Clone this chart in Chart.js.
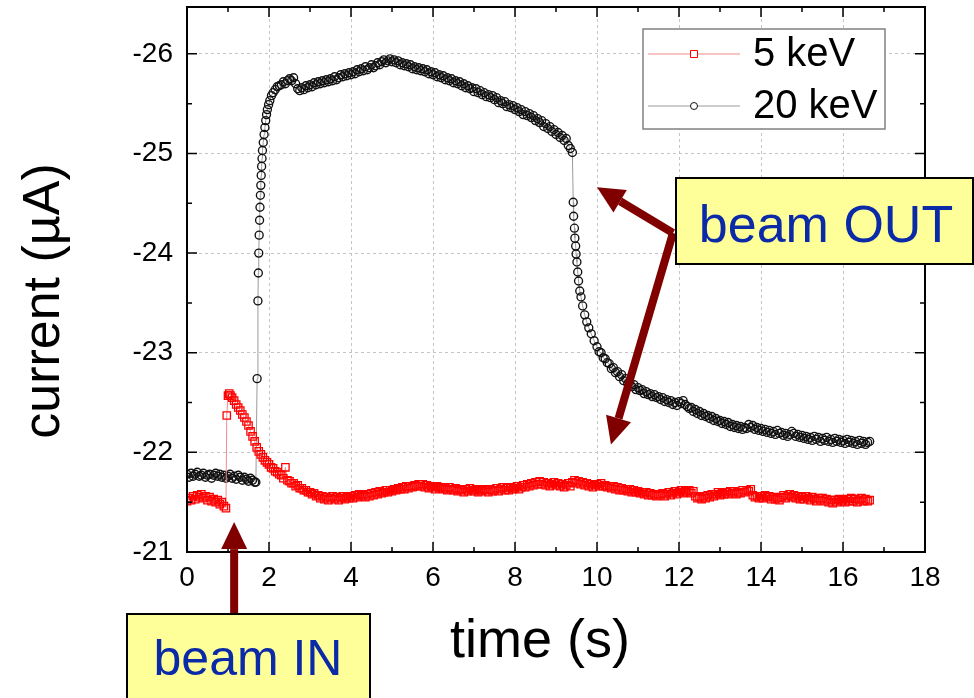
<!DOCTYPE html>
<html>
<head>
<meta charset="utf-8">
<script src="https://cdn.jsdelivr.net/npm/chart.js@4.4.0/dist/chart.umd.min.js"></script>
<style>
  html, body { margin: 0; padding: 0; background: #fff; }
  #wrap { width: 974px; height: 698px; }
</style>
</head>
<body>
<div id="wrap"><canvas id="chart" width="974" height="698"></canvas></div>
<script>
const FONT = "'Liberation Sans', Arial, sans-serif";

const seriesNames = ['5 keV', '20 keV'];
const xTicks = [0, 2, 4, 6, 8, 10, 12, 14, 16, 18];
const yTicks = [-26, -25, -24, -23, -22, -21];

// 5 keV
const time5 = [
  0.0, 0.05, 0.1, 0.15, 0.2, 0.25, 0.3, 0.35, 0.4, 0.45, 0.5, 0.55, 0.6, 0.65, 0.7, 0.75, 0.8, 0.85, 0.9, 0.95,
  0.97, 1.0, 1.03, 1.06, 1.1, 1.15, 1.2, 1.25, 1.3, 1.35, 1.4, 1.45, 1.5, 1.55, 1.6, 1.65, 1.7, 1.75, 1.8, 1.85, 1.9, 1.95,
  2.0, 2.05, 2.1, 2.15, 2.2, 2.25, 2.3, 2.35, 2.4, 2.45, 2.5, 2.55, 2.6, 2.65, 2.7, 2.75, 2.8, 2.85, 2.9, 2.95,
  3.0, 3.05, 3.1, 3.15, 3.2, 3.25, 3.3, 3.35, 3.4, 3.45, 3.5, 3.55, 3.6, 3.65, 3.7, 3.75, 3.8, 3.85, 3.9, 3.95,
  4.0, 4.05, 4.1, 4.15, 4.2, 4.25, 4.3, 4.35, 4.4, 4.45, 4.5, 4.55, 4.6, 4.65, 4.7, 4.75, 4.8, 4.85, 4.9, 4.95,
  5.0, 5.05, 5.1, 5.15, 5.2, 5.25, 5.3, 5.35, 5.4, 5.45, 5.5, 5.55, 5.6, 5.65, 5.7, 5.75, 5.8, 5.85, 5.9, 5.95,
  6.0, 6.05, 6.1, 6.15, 6.2, 6.25, 6.3, 6.35, 6.4, 6.45, 6.5, 6.55, 6.6, 6.65, 6.7, 6.75, 6.8, 6.85, 6.9, 6.95,
  7.0, 7.05, 7.1, 7.15, 7.2, 7.25, 7.3, 7.35, 7.4, 7.45, 7.5, 7.55, 7.6, 7.65, 7.7, 7.75, 7.8, 7.85, 7.9, 7.95,
  8.0, 8.05, 8.1, 8.15, 8.2, 8.25, 8.3, 8.35, 8.4, 8.45, 8.5, 8.55, 8.6, 8.65, 8.7, 8.75, 8.8, 8.85, 8.9, 8.95,
  9.0, 9.05, 9.1, 9.15, 9.2, 9.25, 9.3, 9.35, 9.4, 9.45, 9.5, 9.55, 9.6, 9.65, 9.7, 9.75, 9.8, 9.85, 9.9, 9.95,
  10.0, 10.05, 10.1, 10.15, 10.2, 10.25, 10.3, 10.35, 10.4, 10.45, 10.5, 10.55, 10.6, 10.65, 10.7, 10.75, 10.8, 10.85, 10.9, 10.95,
  11.0, 11.05, 11.1, 11.15, 11.2, 11.25, 11.3, 11.35, 11.4, 11.45, 11.5, 11.55, 11.6, 11.65, 11.7, 11.75, 11.8, 11.85, 11.9, 11.95,
  12.0, 12.05, 12.1, 12.15, 12.2, 12.25, 12.3, 12.35, 12.4, 12.45, 12.5, 12.55, 12.6, 12.65, 12.7, 12.75, 12.8, 12.85, 12.9, 12.95,
  13.0, 13.05, 13.1, 13.15, 13.2, 13.25, 13.3, 13.35, 13.4, 13.45, 13.5, 13.55, 13.6, 13.65, 13.7, 13.75, 13.8, 13.85, 13.9, 13.95,
  14.0, 14.05, 14.1, 14.15, 14.2, 14.25, 14.3, 14.35, 14.4, 14.45, 14.5, 14.55, 14.6, 14.65, 14.7, 14.75, 14.8, 14.85, 14.9, 14.95,
  15.0, 15.05, 15.1, 15.15, 15.2, 15.25, 15.3, 15.35, 15.4, 15.45, 15.5, 15.55, 15.6, 15.65, 15.7, 15.75, 15.8, 15.85, 15.9, 15.95,
  16.0, 16.05, 16.1, 16.15, 16.2, 16.25, 16.3, 16.35, 16.4, 16.45, 16.5, 16.55, 16.6, 16.65
];
const current5 = [
  -21.51, -21.54, -21.52, -21.56, -21.53, -21.57, -21.55, -21.58, -21.54, -21.56, -21.52, -21.55, -21.51, -21.53, -21.50, -21.52, -21.48, -21.50, -21.46, -21.44,
  -22.37, -22.57, -22.59, -22.57, -22.55, -22.52, -22.48, -22.45, -22.42, -22.38, -22.35, -22.31, -22.27, -22.21, -22.16, -22.11, -22.05, -22.01, -21.98, -21.95, -21.92, -21.90,
  -21.88, -21.85, -21.84, -21.81, -21.80, -21.78, -21.77, -21.74, -21.85, -21.72, -21.71, -21.69, -21.69, -21.66, -21.67, -21.64, -21.64, -21.62, -21.62, -21.60,
  -21.60, -21.58, -21.59, -21.56, -21.57, -21.54, -21.56, -21.53, -21.55, -21.52, -21.54, -21.56, -21.53, -21.55, -21.52, -21.54, -21.56, -21.53, -21.55, -21.54,
  -21.56, -21.54, -21.57, -21.55, -21.58, -21.56, -21.57, -21.55, -21.58, -21.56, -21.59, -21.57, -21.60, -21.58, -21.61, -21.59, -21.60, -21.62, -21.60, -21.62,
  -21.61, -21.63, -21.62, -21.64, -21.63, -21.65, -21.63, -21.66, -21.64, -21.66, -21.65, -21.67, -21.66, -21.68, -21.66, -21.68, -21.65, -21.67, -21.64, -21.66,
  -21.65, -21.63, -21.66, -21.64, -21.65, -21.63, -21.64, -21.62, -21.65, -21.63, -21.62, -21.64, -21.61, -21.63, -21.62, -21.60, -21.63, -21.61, -21.64, -21.62,
  -21.61, -21.63, -21.60, -21.62, -21.61, -21.63, -21.62, -21.60, -21.63, -21.61, -21.62, -21.64, -21.61, -21.63, -21.65, -21.62, -21.64, -21.62, -21.65, -21.63,
  -21.64, -21.66, -21.63, -21.65, -21.67, -21.65, -21.68, -21.66, -21.69, -21.67, -21.70, -21.68, -21.71, -21.68, -21.70, -21.67, -21.69, -21.66, -21.68, -21.70,
  -21.67, -21.69, -21.66, -21.68, -21.65, -21.67, -21.69, -21.66, -21.70, -21.72, -21.69, -21.71, -21.68, -21.70, -21.67, -21.69, -21.66, -21.68, -21.65, -21.67,
  -21.68, -21.66, -21.69, -21.66, -21.67, -21.65, -21.66, -21.64, -21.66, -21.63, -21.65, -21.62, -21.64, -21.62, -21.63, -21.61, -21.63, -21.60, -21.62, -21.60,
  -21.61, -21.59, -21.60, -21.58, -21.60, -21.57, -21.59, -21.57, -21.58, -21.56, -21.58, -21.57, -21.59, -21.56, -21.58, -21.60, -21.57, -21.59, -21.61, -21.58,
  -21.60, -21.62, -21.59, -21.61, -21.60, -21.62, -21.59, -21.61, -21.56, -21.54, -21.55, -21.53, -21.56, -21.54, -21.57, -21.55, -21.58, -21.56, -21.58, -21.60,
  -21.57, -21.59, -21.58, -21.60, -21.58, -21.61, -21.59, -21.61, -21.58, -21.60, -21.59, -21.62, -21.60, -21.62, -21.61, -21.63, -21.57, -21.55, -21.56, -21.54,
  -21.56, -21.54, -21.57, -21.55, -21.56, -21.53, -21.55, -21.53, -21.54, -21.52, -21.55, -21.57, -21.54, -21.56, -21.58, -21.55, -21.57, -21.54, -21.56, -21.53,
  -21.55, -21.53, -21.56, -21.54, -21.52, -21.55, -21.53, -21.51, -21.54, -21.52, -21.54, -21.51, -21.53, -21.50, -21.52, -21.49, -21.52, -21.50, -21.53, -21.51,
  -21.52, -21.50, -21.53, -21.51, -21.54, -21.51, -21.53, -21.50, -21.52, -21.54, -21.51, -21.53, -21.51, -21.52
];

// 20 keV
const time20 = [
  0.0, 0.05, 0.1, 0.15, 0.2, 0.25, 0.3, 0.35, 0.4, 0.45, 0.5, 0.55, 0.6, 0.65, 0.7, 0.75, 0.8, 0.85, 0.9, 0.95,
  1.0, 1.05, 1.1, 1.15, 1.2, 1.25, 1.3, 1.35, 1.4, 1.45, 1.5, 1.55, 1.6, 1.65, 1.68,
  1.71, 1.73, 1.74, 1.75, 1.76, 1.77, 1.78, 1.79, 1.8, 1.81, 1.82, 1.83, 1.84, 1.86, 1.88, 1.9, 1.92, 1.94, 1.96, 1.99,
  2.02, 2.06, 2.1, 2.15, 2.2, 2.25, 2.3, 2.35, 2.4, 2.45, 2.5, 2.55, 2.6, 2.65, 2.7, 2.75, 2.8, 2.85, 2.9, 2.95,
  3.0, 3.05, 3.1, 3.15, 3.2, 3.25, 3.3, 3.35, 3.4, 3.45, 3.5, 3.55, 3.6, 3.65, 3.7, 3.75, 3.8, 3.85, 3.9, 3.95,
  4.0, 4.05, 4.1, 4.15, 4.2, 4.25, 4.3, 4.35, 4.4, 4.45, 4.5, 4.55, 4.6, 4.65, 4.7, 4.75, 4.8, 4.85, 4.9, 4.95,
  5.0, 5.05, 5.1, 5.15, 5.2, 5.25, 5.3, 5.35, 5.4, 5.45, 5.5, 5.55, 5.6, 5.65, 5.7, 5.75, 5.8, 5.85, 5.9, 5.95,
  6.0, 6.05, 6.1, 6.15, 6.2, 6.25, 6.3, 6.35, 6.4, 6.45, 6.5, 6.55, 6.6, 6.65, 6.7, 6.75, 6.8, 6.85, 6.9, 6.95,
  7.0, 7.05, 7.1, 7.15, 7.2, 7.25, 7.3, 7.35, 7.4, 7.45, 7.5, 7.55, 7.6, 7.65, 7.7, 7.75, 7.8, 7.85, 7.9, 7.95,
  8.0, 8.05, 8.1, 8.15, 8.2, 8.25, 8.3, 8.35, 8.4, 8.45, 8.5, 8.55, 8.6, 8.65, 8.7, 8.75, 8.8, 8.85, 8.9, 8.95,
  9.0, 9.05, 9.1, 9.15, 9.2, 9.25, 9.3, 9.35, 9.4,
  9.42, 9.43, 9.45, 9.46, 9.48, 9.49, 9.51, 9.53, 9.55, 9.58, 9.61, 9.65, 9.7, 9.75, 9.8, 9.86, 9.93,
  10.0, 10.05, 10.1, 10.15, 10.2, 10.25, 10.3, 10.35, 10.4, 10.45, 10.5, 10.55, 10.6, 10.65, 10.7, 10.75, 10.8, 10.85, 10.9, 10.95,
  11.0, 11.05, 11.1, 11.15, 11.2, 11.25, 11.3, 11.35, 11.4, 11.45, 11.5, 11.55, 11.6, 11.65, 11.7, 11.75, 11.8, 11.85, 11.9, 11.95,
  12.0, 12.05, 12.1, 12.15, 12.2, 12.25, 12.3, 12.35, 12.4, 12.45, 12.5, 12.55, 12.6, 12.65, 12.7, 12.75, 12.8, 12.85, 12.9, 12.95,
  13.0, 13.05, 13.1, 13.15, 13.2, 13.25, 13.3, 13.35, 13.4, 13.45, 13.5, 13.55, 13.6, 13.65, 13.7, 13.75, 13.8, 13.85, 13.9, 13.95,
  14.0, 14.05, 14.1, 14.15, 14.2, 14.25, 14.3, 14.35, 14.4, 14.45, 14.5, 14.55, 14.6, 14.65, 14.7, 14.75, 14.8, 14.85, 14.9, 14.95,
  15.0, 15.05, 15.1, 15.15, 15.2, 15.25, 15.3, 15.35, 15.4, 15.45, 15.5, 15.55, 15.6, 15.65, 15.7, 15.75, 15.8, 15.85, 15.9, 15.95,
  16.0, 16.05, 16.1, 16.15, 16.2, 16.25, 16.3, 16.35, 16.4, 16.45, 16.5, 16.55, 16.6, 16.65
];
const current20 = [
  -21.78, -21.75, -21.79, -21.76, -21.78, -21.80, -21.76, -21.77, -21.79, -21.75, -21.77, -21.78, -21.74, -21.77, -21.79, -21.76, -21.78, -21.75, -21.77, -21.74,
  -21.76, -21.78, -21.74, -21.76, -21.73, -21.77, -21.75, -21.72, -21.75, -21.73, -21.71, -21.74, -21.72, -21.70, -21.70,
  -22.74, -23.52, -23.80, -24.00, -24.18, -24.33, -24.46, -24.58, -24.68, -24.78, -24.87, -24.95, -25.03, -25.11, -25.19, -25.26, -25.33, -25.39, -25.44, -25.49,
  -25.53, -25.58, -25.61, -25.64, -25.67, -25.68, -25.69, -25.72, -25.70, -25.73, -25.75, -25.73, -25.76, -25.70, -25.65, -25.63, -25.66, -25.64, -25.68, -25.66,
  -25.69, -25.67, -25.71, -25.69, -25.72, -25.70, -25.73, -25.71, -25.74, -25.72, -25.75, -25.73, -25.77, -25.74, -25.76, -25.79, -25.77, -25.80, -25.78, -25.81,
  -25.79, -25.82, -25.80, -25.84, -25.82, -25.85, -25.83, -25.87, -25.84, -25.86, -25.89, -25.86, -25.88, -25.91, -25.89, -25.92, -25.94, -25.91, -25.93, -25.95,
  -25.92, -25.94, -25.91, -25.93, -25.89, -25.91, -25.88, -25.90, -25.87, -25.89, -25.85, -25.87, -25.84, -25.86, -25.83, -25.85, -25.82, -25.84, -25.80, -25.82,
  -25.79, -25.81, -25.77, -25.79, -25.76, -25.78, -25.74, -25.76, -25.73, -25.75, -25.71, -25.73, -25.70, -25.72, -25.68, -25.70, -25.66, -25.68, -25.65, -25.66,
  -25.62, -25.65, -25.61, -25.63, -25.59, -25.61, -25.57, -25.59, -25.56, -25.58, -25.54, -25.56, -25.51, -25.53, -25.50, -25.52, -25.47, -25.49, -25.46, -25.48,
  -25.44, -25.46, -25.42, -25.44, -25.39, -25.42, -25.38, -25.40, -25.36, -25.38, -25.33, -25.35, -25.31, -25.33, -25.27, -25.30, -25.25, -25.27, -25.22, -25.24,
  -25.19, -25.21, -25.16, -25.18, -25.13, -25.15, -25.08, -25.05, -25.01,
  -24.51, -24.37, -24.25, -24.15, -24.07, -23.99, -23.91, -23.81, -23.72, -23.62, -23.56, -23.47, -23.38, -23.31, -23.25, -23.19, -23.12,
  -23.06, -23.01, -23.00, -22.95, -22.94, -22.90, -22.89, -22.84, -22.85, -22.80, -22.81, -22.76, -22.78, -22.72, -22.74, -22.69, -22.71, -22.66, -22.68, -22.63,
  -22.65, -22.62, -22.63, -22.59, -22.61, -22.58, -22.59, -22.56, -22.58, -22.55, -22.56, -22.53, -22.55, -22.51, -22.53, -22.50, -22.52, -22.48, -22.50, -22.47,
  -22.51, -22.49, -22.52, -22.48, -22.46, -22.44, -22.45, -22.41, -22.43, -22.39, -22.41, -22.37, -22.39, -22.36, -22.37, -22.34, -22.36, -22.32, -22.34, -22.31,
  -22.32, -22.29, -22.31, -22.28, -22.30, -22.26, -22.28, -22.25, -22.27, -22.24, -22.26, -22.23, -22.25, -22.24, -22.28, -22.25, -22.27, -22.23, -22.25, -22.22,
  -22.24, -22.21, -22.23, -22.20, -22.22, -22.19, -22.21, -22.18, -22.22, -22.19, -22.20, -22.17, -22.19, -22.16, -22.18, -22.21, -22.19, -22.16, -22.18, -22.15,
  -22.17, -22.14, -22.16, -22.13, -22.15, -22.12, -22.16, -22.13, -22.15, -22.11, -22.14, -22.12, -22.15, -22.11, -22.13, -22.10, -22.14, -22.11, -22.13, -22.10,
  -22.12, -22.09, -22.13, -22.10, -22.12, -22.09, -22.11, -22.08, -22.12, -22.09, -22.11, -22.08, -22.10, -22.11
];

const toPoints = (ts, vs) => ts.map((t, i) => ({ x: t, y: vs[i] }));

// frame with inward ticks on all four sides
const framePlugin = {
  id: 'frame',
  afterDatasetsDraw(chart) {
    const { ctx, chartArea: a, scales } = chart;
    ctx.save();
    ctx.strokeStyle = '#000';
    ctx.lineWidth = 2;
    ctx.strokeRect(a.left, a.top, a.right - a.left, a.bottom - a.top);
    ctx.lineWidth = 1.5;
    ctx.beginPath();
    for (let v = 0; v <= 18; v += 1) {
      const px = scales.x.getPixelForValue(v);
      const len = v % 2 === 0 ? 10 : 5;
      ctx.moveTo(px, a.bottom); ctx.lineTo(px, a.bottom - len);
      ctx.moveTo(px, a.top); ctx.lineTo(px, a.top + len);
    }
    for (let v = -21; v >= -26; v -= 0.5) {
      const py = scales.y.getPixelForValue(v);
      const len = Number.isInteger(v) ? 10 : 5;
      ctx.moveTo(a.left, py); ctx.lineTo(a.left + len, py);
      ctx.moveTo(a.right, py); ctx.lineTo(a.right - len, py);
    }
    ctx.stroke();
    ctx.restore();
  }
};

const legendPlugin = {
  id: 'boxLegend',
  afterDatasetsDraw(chart) {
    const ctx = chart.ctx;
    const x0 = 643, y0 = 29, w = 242, h = 100;
    ctx.save();
    ctx.fillStyle = '#fff';
    ctx.fillRect(x0, y0, w, h);
    ctx.strokeStyle = '#808080';
    ctx.lineWidth = 1.5;
    ctx.strokeRect(x0, y0, w, h);
    const rows = [54, 106];
    chart.data.datasets.forEach((ds, i) => {
      const y = rows[i];
      ctx.strokeStyle = ds.borderColor;
      ctx.lineWidth = 1;
      ctx.beginPath();
      ctx.moveTo(648, y); ctx.lineTo(740, y);
      ctx.stroke();
      ctx.fillStyle = '#fff';
      ctx.strokeStyle = ds.pointBorderColor;
      ctx.beginPath();
      if (ds.pointStyle === 'rect') ctx.rect(690.5, y - 3.5, 7, 7);
      else ctx.arc(694, y, 3.5, 0, Math.PI * 2);
      ctx.fill(); ctx.stroke();
      ctx.fillStyle = '#000';
      ctx.font = '40px ' + FONT;
      ctx.textBaseline = 'middle';
      ctx.textAlign = 'left';
      ctx.fillText(ds.label, 753, y + 1);
    });
    ctx.restore();
  }
};

function arrow(ctx, x1, y1, x2, y2) {
  const ang = Math.atan2(y2 - y1, x2 - x1);
  const headLen = 27, headW = 13;
  const bx = x2 - headLen * Math.cos(ang), by = y2 - headLen * Math.sin(ang);
  ctx.beginPath();
  ctx.moveTo(x1, y1); ctx.lineTo(bx, by);
  ctx.stroke();
  ctx.beginPath();
  ctx.moveTo(x2, y2);
  ctx.lineTo(bx + headW * Math.sin(ang), by - headW * Math.cos(ang));
  ctx.lineTo(bx - headW * Math.sin(ang), by + headW * Math.cos(ang));
  ctx.closePath();
  ctx.fill();
}

const notesPlugin = {
  id: 'notes',
  afterDraw(chart) {
    const { ctx, scales } = chart;
    const X = v => scales.x.getPixelForValue(v);
    const Y = v => scales.y.getPixelForValue(v);
    ctx.save();

    // axis titles
    ctx.fillStyle = '#000';
    ctx.textAlign = 'center';
    ctx.textBaseline = 'alphabetic';
    ctx.font = '54px ' + FONT;
    ctx.fillText('time (s)', 540, 657);
    ctx.save();
    ctx.translate(59, 301);
    ctx.rotate(-Math.PI / 2);
    ctx.font = '52px ' + FONT;
    ctx.fillText('current (\u00b5A)', 0, 0);
    ctx.restore();

    // arrows
    ctx.strokeStyle = '#800000';
    ctx.fillStyle = '#800000';
    ctx.lineWidth = 8;
    ctx.lineCap = 'butt';
    arrow(ctx, 673, 233, X(10.0), Y(-24.66));
    arrow(ctx, 673, 233, X(10.34), Y(-22.08));
    arrow(ctx, X(1.15), 614, X(1.15), Y(-21.3));

    // boxes
    ctx.lineWidth = 2;
    ctx.strokeStyle = '#000';
    ctx.fillStyle = '#ffff99';
    ctx.fillRect(676, 178, 297, 86);
    ctx.strokeRect(676, 178, 297, 86);
    ctx.fillRect(127, 614, 243, 90);
    ctx.strokeRect(127, 614, 243, 90);

    ctx.fillStyle = '#0b2aa8';
    ctx.font = '52px ' + FONT;
    ctx.fillText('beam OUT', 826, 242);
    ctx.font = '50px ' + FONT;
    ctx.fillText('beam IN', 248, 675);
    ctx.restore();
  }
};

new Chart(document.getElementById('chart'), {
  type: 'line',
  data: {
    datasets: [
      {
        label: seriesNames[0],
        data: toPoints(time5, current5),
        borderColor: '#f08a8a',
        borderWidth: 1,
        pointStyle: 'rect',
        pointRadius: 5.2,
        pointBorderColor: '#ff0000',
        pointBackgroundColor: 'rgba(255,255,255,0)',
        pointBorderWidth: 1.3,
        tension: 0
      },
      {
        label: seriesNames[1],
        data: toPoints(time20, current20),
        borderColor: '#9a9a9a',
        borderWidth: 1,
        pointStyle: 'circle',
        pointRadius: 4,
        pointBorderColor: '#111111',
        pointBackgroundColor: 'rgba(255,255,255,0)',
        pointBorderWidth: 1.35,
        tension: 0
      }
    ]
  },
  options: {
    responsive: false,
    animation: false,
    devicePixelRatio: 1,
    layout: { padding: { top: 7, right: 49, left: 0, bottom: 0 } },
    plugins: {
      legend: { display: false },
      tooltip: { enabled: false }
    },
    scales: {
      x: {
        type: 'linear',
        min: 0,
        max: 18,
        afterBuildTicks: s => { s.ticks = xTicks.map(v => ({ value: v })); },
        afterFit: s => { s.height = 146; s.paddingLeft = 0; s.paddingRight = 0; },
        grid: { color: '#c4c4c4', lineWidth: 1, drawTicks: false },
        border: { display: false, dash: [3, 3] },
        ticks: {
          padding: 9,
          color: '#000',
          font: { family: FONT, size: 28 },
          callback: v => String(v)
        }
      },
      y: {
        type: 'linear',
        reverse: true,
        min: -26.47,
        max: -21,
        afterBuildTicks: s => { s.ticks = yTicks.map(v => ({ value: v })); },
        afterFit: s => { s.width = 187; s.paddingTop = 0; s.paddingBottom = 0; },
        grid: { color: '#c4c4c4', lineWidth: 1, drawTicks: false },
        border: { display: false, dash: [3, 3] },
        ticks: {
          padding: 14,
          color: '#000',
          font: { family: FONT, size: 28 },
          callback: v => String(v)
        }
      }
    }
  },
  plugins: [framePlugin, legendPlugin, notesPlugin]
});
</script>
</body>
</html>
